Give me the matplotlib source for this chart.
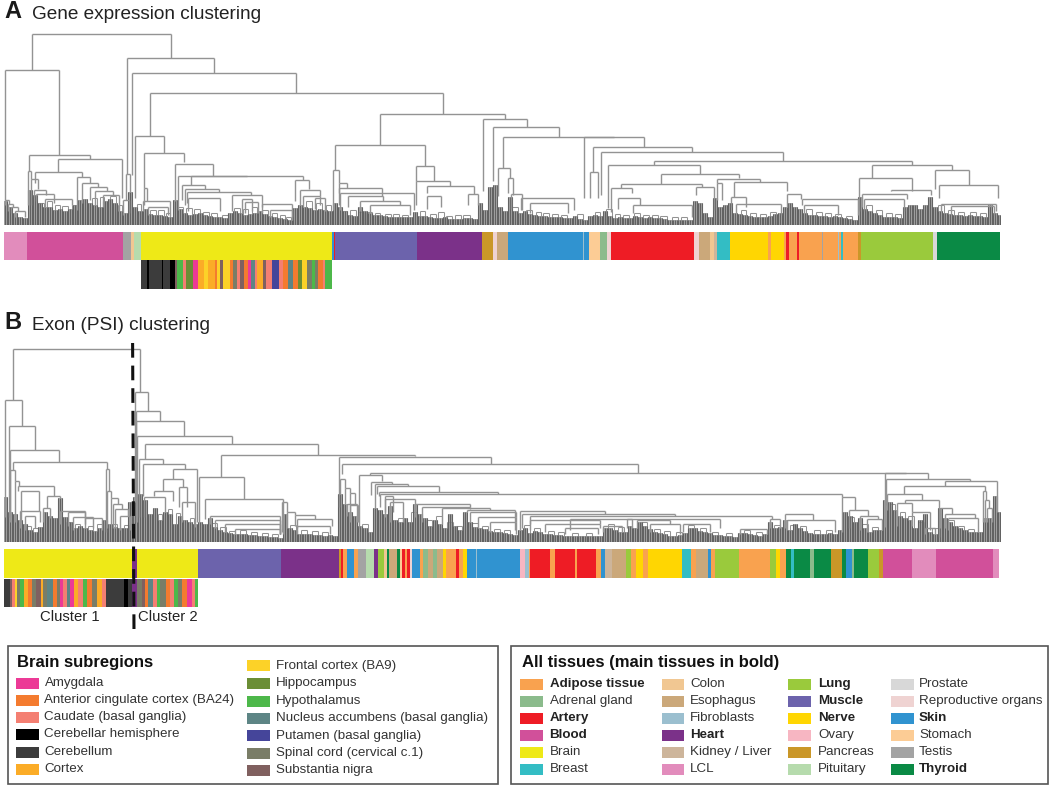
"""
Gene expression and exon clustering dendrograms with tissue strips
"""
import matplotlib
matplotlib.use("Agg")
import matplotlib.pyplot as plt
import numpy as np
from matplotlib.patches import Rectangle

plt.rcParams["font.family"] = ["Liberation Sans", "DejaVu Sans"]

W, H = 1050, 785

##################################################
# Legend contents
brain_keys = ["amy", "acc", "cau", "hem", "cer", "ctx",
              "fro", "hip", "hyp", "nuc", "put", "spi", "sub"]
brain_names = ["Amygdala", "Anterior cingulate cortex (BA24)", "Caudate (basal ganglia)",
               "Cerebellar hemisphere", "Cerebellum", "Cortex",
               "Frontal cortex (BA9)", "Hippocampus", "Hypothalamus",
               "Nucleus accumbens (basal ganglia)", "Putamen (basal ganglia)",
               "Spinal cord (cervical c.1)", "Substantia nigra"]
brain_colors = ["#EC3A96", "#F47B2F", "#F47F72", "#000000", "#3C3C3C", "#FBAC27",
                "#FCD228", "#6B8E35", "#4DB84A", "#5D8585", "#45459A", "#7A7D67", "#80605F"]

tissue_keys = ["adi", "adr", "art", "blo", "bra", "bre",
               "col", "eso", "fib", "hea", "kid", "lcl",
               "lun", "mus", "ner", "ova", "pan", "pit",
               "pro", "rep", "ski", "sto", "tes", "thy"]
tissue_names = ["Adipose tissue", "Adrenal gland", "Artery", "Blood", "Brain", "Breast",
                "Colon", "Esophagus", "Fibroblasts", "Heart", "Kidney / Liver", "LCL",
                "Lung", "Muscle", "Nerve", "Ovary", "Pancreas", "Pituitary",
                "Prostate", "Reproductive organs", "Skin", "Stomach", "Testis", "Thyroid"]
tissue_colors = ["#F9A24F", "#8BBB8C", "#EE1C25", "#D1509A", "#EEE917", "#33BDC4",
                 "#F1C792", "#CBA87A", "#9BBFCF", "#7B3189", "#CDB59B", "#E28CBC",
                 "#9ACA3C", "#6C63AC", "#FFD602", "#F7B6C2", "#CA9728", "#B6DBAD",
                 "#D8D8D8", "#EFD3D2", "#3093D0", "#FCCC95", "#A3A3A3", "#0A8A45"]
tissue_bold = ["Adipose tissue", "Artery", "Blood", "Heart", "Lung", "Muscle",
               "Nerve", "Skin", "Thyroid"]

##################################################
# Panel A dendrogram: merges
a_left = [32, 5, 127, 132, 150, 135, 144, 175, 29, 58,
          28, 35, 31, 34, 36, 45, 77, 82, 90, 95,
          103, 5, 8, 11, 15, 123, 126, 144, 143, 148,
          178, 191, 182, 185, 187, 188, 232, 242, 245, 262,
          270, 295, 300, 303, 315, 380, 335, 416, 416, 427,
          427, 468, 333, 339, 339, 340, 348, 360, 370, 483,
          493, 503, 584, 593, 590, 601, 654, 608, 661, 621,
          611, 618, 633, 696, 717, 734, 717, 731, 736, 787,
          802, 804, 859, 891, 862, 864, 872, 935, 939, 941,
          951, 498, 508, 511, 521, 530]
a_right = [171, 59, 214, 296, 443, 164, 184, 213, 90, 122,
           31, 82, 38, 46, 54, 72, 90, 98, 107, 113,
           119, 9, 13, 18, 25, 129, 130, 147, 170, 168,
           247, 303, 205, 219, 251, 220, 262, 252, 258, 292,
           292, 309, 320, 320, 325, 505, 425, 434, 450, 474,
           441, 478, 339, 347, 382, 414, 383, 400, 410, 527,
           559, 614, 644, 692, 598, 783, 912, 700, 739, 702,
           632, 640, 692, 714, 760, 787, 722, 746, 781, 801,
           858, 838, 912, 931, 907, 904, 952, 969, 998, 996,
           994, 510, 513, 522, 574, 568]
a_top = [191, 155, 167, 152, 132, 89, 72, 61, 70, 66,
         54, 53, 46, 35, 31, 26, 48, 42, 38, 34,
         30, 25, 21, 18, 14, 25, 51, 37, 24, 18,
         49, 48.5, 40, 36, 33, 27, 30, 26, 23, 21,
         15, 45, 35, 29, 27, 111, 80, 59, 44, 39,
         29, 31, 55, 42, 37, 32, 29, 24, 20, 106,
         98, 88, 87.5, 78, 53, 73, 64, 60, 51, 41,
         37, 27, 20, 38, 46, 43, 42, 28, 21, 31,
         26, 20, 47, 35, 31, 26, 60, 55, 40, 21,
         19, 57, 47, 31, 27, 22]
a_left_end = [155, 25, 51, 50, 89, 27, 37, 24, 54, 53,
              20, 42, 20, 28, 24, 18, 15, 22, 25, 20,
              18, 20, 14, 12, 8, 10, 25, 20, 14, 10,
              15, 40, 25, 20, 22, 14, 14, 12, 12, 12,
              8, 24, 20, 18, 16, 80, 55, 44, 20, 32,
              16, 20, 15, 20, 32, 15, 18, 14, 12, 34,
              44, 57, 27, 53, 27, 30, 60, 17, 41, 37,
              13, 16, 12, 30, 42, 28, 25, 18, 12, 18,
              20, 12, 14, 34, 18, 14, 47, 36, 27, 14,
              10, 29, 32, 16, 15, 12]
a_right_end = [167, 70, 152, 132, 111, 72, 63, 49, 66, 27,
               46, 48, 36, 30, 22, 20, 42, 38, 34, 30,
               14, 21, 18, 14, 8, 12, 33, 24, 9, 10,
               48.5, 45, 36, 33, 30, 14, 18, 14, 12, 8,
               5, 36, 29, 20, 14, 106, 59, 44, 39, 31,
               18, 20, 42, 37, 29, 15, 24, 20, 10, 98,
               88, 88, 78, 73, 27, 64, 60, 51, 47, 38,
               32, 20, 8, 15, 43, 34, 25, 18, 10, 26,
               10, 10, 34, 30, 26, 14, 55, 40, 27, 14,
               10, 47, 30, 15, 15, 12]

# small brackets just above the leaf band
a_twig_left = [38, 47, 55, 62, 72, 92, 100, 110, 118, 137,
               150, 158, 166, 178, 186, 194, 203, 211, 222, 234,
               243, 252, 262, 272, 280, 286, 306, 316, 326, 342,
               350, 358, 366, 375, 385, 393, 402, 420, 430, 438,
               446, 455, 463, 512, 526, 536, 543, 552, 561, 577,
               595, 606, 615, 623, 634, 643, 652, 660, 672, 681,
               741, 750, 760, 770, 806, 816, 825, 835, 846, 866,
               876, 886, 895, 938, 948, 958, 970, 980]
a_twig_right = [44, 52, 60, 68, 76, 97, 104, 116, 122, 141,
                156, 164, 170, 183, 192, 200, 209, 217, 228, 240,
                248, 257, 268, 277, 285, 291, 312, 322, 331, 347,
                356, 364, 372, 380, 391, 399, 408, 425, 436, 444,
                452, 461, 470, 518, 532, 541, 549, 558, 567, 583,
                600, 612, 620, 629, 640, 649, 658, 667, 678, 687,
                746, 756, 766, 776, 812, 822, 831, 841, 852, 872,
                882, 892, 901, 944, 954, 964, 976, 986]
a_twig_top = [22, 24, 20, 19, 20, 27, 28, 29, 20, 21,
              15, 15, 12, 18, 17, 16, 13, 12, 10, 17,
              16, 18, 15, 12, 10, 8, 24, 22, 20, 14,
              15, 13, 13, 12, 11, 11, 10, 14, 11, 13,
              9, 10, 10, 18, 15, 13, 12, 11, 10, 11,
              13, 16, 11, 10, 12, 10, 10, 9, 8, 8,
              15, 12, 11, 13, 16, 13, 12, 11, 9, 20,
              15, 12, 11, 20, 15, 13, 13, 12]

# height of the dense leaf band, one value per 5 leaf positions
a_band = [24, 18, 12, 8, 7, 35, 30, 22, 18, 18, 15, 16, 14, 16, 20, 25, 26, 22, 20, 18,
          24, 26, 22, 14, 12, 33, 18, 14, 16, 11, 10, 10, 9, 8, 25, 16, 12, 10, 11, 12,
          10, 9, 8, 8, 7, 12, 14, 12, 10, 11, 12, 14, 11, 9, 8, 7, 6, 5, 17, 20,
          18, 17, 15, 16, 15, 14, 22, 18, 14, 10, 9, 18, 14, 12, 10, 10, 9, 8, 8, 8,
          8, 8, 13, 9, 9, 8, 7, 7, 8, 6, 6, 6, 7, 7, 6, 22, 15, 38, 40, 18,
          14, 28, 14, 12, 14, 11, 10, 9, 9, 8, 8, 8, 7, 7, 9, 6, 5, 9, 10, 9,
          14, 9, 7, 8, 7, 7, 9, 8, 7, 8, 7, 7, 6, 5, 5, 5, 5, 5, 24, 22,
          12, 8, 27, 18, 20, 22, 12, 11, 10, 9, 8, 8, 8, 9, 11, 12, 18, 22, 18, 16,
          12, 10, 10, 9, 9, 8, 9, 8, 7, 6, 5, 28, 16, 14, 12, 10, 8, 8, 8, 7,
          18, 20, 20, 16, 20, 28, 18, 14, 12, 11, 10, 10, 9, 10, 9, 9, 8, 20, 12, 10]

# colour strips, edges in sample rank
a_main_keys = ["lcl", "blo", "tes", "col", "pit", "bra", "ski", "art", "mus", "hea",
               "pan", "rep", "eso", "ski", "fib", "ski", "sto", "adr", "rep", "art",
               "rep", "eso", "col", "kid", "bre", "ner", "adi", "ner", "adi", "art",
               "adi", "art", "adi", "tes", "adi", "fib", "adi", "bre", "adi", "pan",
               "lun", "pro", "thy"]
a_main_edges = [12, 82, 368, 392, 402, 424, 996, 1001, 1006, 1250, 1445,
                1480, 1490, 1523, 1748, 1752, 1766, 1801, 1821, 1834, 2082,
                2097, 2131, 2143, 2151, 2191, 2305, 2312, 2353, 2359, 2367,
                2391, 2396, 2465, 2468, 2513, 2518, 2523, 2528, 2573, 2584,
                2800, 2810, 3000]
a_sub_keys = ["cer", "hem", "cer", "hem", "cer", "hem", "sub", "hyp", "cau", "hip",
              "amy", "ctx", "fro", "ctx", "acc", "fro", "sub", "fro", "acc", "spi",
              "cau", "sub", "acc", "amy", "nuc", "cau", "ctx", "sub", "cau", "put",
              "cau", "acc", "nuc", "acc", "hip", "fro", "spi", "hyp", "spi", "acc",
              "cau", "hyp"]
a_sub_edges = [424, 440, 448, 485, 490, 510, 525, 532, 550, 557, 580,
               595, 612, 625, 645, 650, 660, 668, 690, 698, 712,
               720, 733, 745, 752, 765, 772, 790, 797, 815, 838,
               850, 865, 880, 895, 905, 920, 935, 945, 955, 968, 975, 996]

##################################################
# Panel B dendrogram
b_left = [13, 5, 9, 10, 13, 10, 15, 21, 18, 47,
          60, 20, 25, 43, 68, 73, 85, 106, 107, 111,
          113, 115, 120, 135, 135.5, 136, 137, 145, 221, 139,
          143, 173, 163, 154, 144, 179, 182, 199, 205, 210,
          215, 225, 235, 282, 287, 295, 297, 297, 339, 342,
          370, 885, 886, 945, 904, 887, 905, 897, 912, 925,
          940, 945, 948, 983, 985, 987, 359, 371, 375, 377,
          379, 380, 842, 849, 860, 867, 385, 385, 390, 415,
          422, 442, 467, 520, 522, 530, 570, 785, 787, 470,
          478, 490, 530, 545, 565, 603, 627, 637, 650, 683,
          740, 770, 340, 345, 350, 347, 350]
b_right = [140, 22, 35, 59, 107, 15, 19, 39, 54, 60,
           85, 40, 35, 50, 85, 93, 102, 109, 111, 118,
           122, 128, 130, 148, 160, 184, 232, 318, 415, 163,
           185, 197, 183, 173, 165, 187, 195, 244, 283, 280,
           280, 280, 280, 287, 295, 315, 332, 330, 491, 638,
           906, 928, 970, 997, 985, 922, 939, 912, 930, 935,
           952, 975, 978, 986, 989, 992, 382, 392, 408, 439,
           498, 842, 855, 868, 878, 882, 393, 415, 403, 470,
           470, 490, 515, 605, 675, 772, 720, 813, 835, 516,
           516, 516, 600, 600, 598, 622, 632, 670, 680, 710,
           767, 780, 345, 350, 355, 357, 358]
b_top = [192, 141.5, 115.5, 91.5, 79.5, 72, 61, 51, 56, 46,
         31, 31, 26, 34, 30, 25, 24, 73, 51, 44,
         38, 33, 26, 150, 131, 121, 106, 97.5, 87, 83,
         78, 73, 63, 51, 45, 55, 40, 65, 43, 26,
         22, 18, 13, 40, 30, 27, 23, 16, 85, 77.7,
         68.7, 68.7, 63, 61, 56, 48, 42, 39, 30, 14,
         34, 28, 24, 51, 42, 34, 66.7, 60, 58, 56,
         50, 47.5, 45, 32, 26, 23, 46, 43, 40, 38,
         35, 33.7, 32, 31, 28, 26, 23, 28, 22, 30,
         25, 20, 22, 18, 14, 16, 23, 22, 18, 18,
         13, 23, 63, 54, 49, 38, 37]
b_left_end = [141.5, 25, 25, 25, 72, 20, 20, 20, 51, 34,
              18, 14, 12, 20, 16, 12, 14, 10, 14, 18,
              14, 14, 12, 40, 40, 20, 20, 83, 65, 25,
              46, 63, 51, 46, 25, 35, 20, 20, 23, 18,
              14, 10, 8, 10, 14, 16, 14, 8, 35, 67.7,
              66.7, 15, 37, 56, 48, 32, 39, 16, 16, 8,
              14, 14, 12, 20, 20, 20, 14, 47, 34, 48,
              46, 35, 10, 14, 12, 10, 30, 25, 20, 25,
              20, 18, 30, 12, 14, 18, 12, 14, 12, 20,
              14, 10, 12, 10, 8, 10, 14, 14, 10, 10,
              8, 14, 48, 38, 30, 26, 20]
b_right_end = [150, 115.5, 91.5, 79.5, 73, 61, 56, 31, 46, 44,
               24, 20, 14, 24, 18, 14, 12, 51, 44, 38,
               33, 26, 12, 131, 121, 106, 97.5, 87, 85.5, 78,
               73, 20, 55, 41, 30, 35, 15, 43, 8, 8,
               8, 8, 8, 30, 27, 23, 16, 8, 77.7, 68.7,
               68.7, 63, 61, 30, 51, 42, 5, 30, 12, 8,
               28, 24, 10, 42, 34, 20, 61, 58, 56, 50,
               48, 45, 32, 26, 23, 12, 30, 38, 20, 35,
               33, 32, 12, 28, 26, 23, 14, 22, 10, 25,
               20, 8, 18, 14, 8, 10, 14, 18, 8, 10,
               8, 14, 54, 49, 38, 20, 20]

b_twig_left = [26, 33, 66, 75, 88, 97, 112, 124, 158, 168,
               176, 190, 212, 220, 229, 240, 251, 262, 272, 290,
               301, 312, 322, 362, 398, 411, 426, 436, 447, 456,
               472, 482, 494, 504, 524, 534, 548, 558, 572, 586,
               608, 618, 641, 654, 664, 676, 688, 700, 712, 726,
               744, 756, 774, 790, 800, 814, 826, 848, 862, 872,
               890, 900, 908, 918, 932, 948, 958, 968]
b_twig_right = [31, 38, 71, 80, 93, 102, 117, 129, 162, 172,
                180, 194, 217, 226, 235, 246, 257, 268, 278, 296,
                307, 318, 328, 368, 404, 417, 432, 442, 453, 462,
                478, 488, 500, 510, 530, 540, 554, 564, 578, 592,
                614, 624, 647, 660, 670, 682, 694, 706, 718, 732,
                750, 762, 780, 796, 806, 820, 832, 854, 868, 878,
                895, 905, 914, 924, 938, 954, 964, 974]
b_twig_top = [16, 14, 20, 18, 16, 18, 18, 17, 28, 33,
              29, 24, 19, 15, 11, 12, 10, 9, 8, 17,
              12, 11, 10, 18, 24, 30, 22, 26, 20, 16,
              19, 16, 13, 12, 17, 14, 11, 10, 9, 9,
              18, 15, 20, 13, 11, 10, 17, 14, 10, 9,
              12, 10, 17, 17, 16, 12, 12, 25, 18, 15,
              38, 30, 26, 20, 14, 22, 16, 13]

b_band = [45, 30, 28, 22, 18, 12, 10, 15, 30, 26, 24, 44, 25, 20, 14, 16, 14, 12, 11, 14,
          22, 18, 15, 14, 14, 40, 45, 48, 42, 28, 34, 22, 30, 28, 18, 26, 22, 20, 18, 20,
          18, 24, 15, 12, 10, 9, 8, 8, 8, 7, 7, 6, 6, 5, 5, 4, 28, 14, 12, 8,
          8, 8, 7, 7, 6, 7, 6, 48, 38, 30, 26, 16, 14, 10, 34, 32, 28, 36, 22, 20,
          24, 20, 38, 28, 24, 16, 22, 18, 14, 28, 16, 12, 30, 20, 15, 14, 13, 11, 10, 10,
          9, 8, 7, 12, 14, 9, 11, 10, 8, 8, 7, 7, 6, 6, 6, 6, 6, 6, 6, 6,
          14, 14, 12, 10, 10, 16, 14, 20, 16, 13, 10, 9, 8, 6, 6, 7, 9, 14, 14, 11,
          10, 9, 7, 7, 6, 6, 5, 9, 9, 8, 7, 6, 8, 20, 14, 15, 22, 12, 18, 14,
          11, 9, 8, 8, 8, 9, 8, 12, 30, 26, 20, 24, 14, 10, 12, 12, 42, 40, 32, 26,
          24, 22, 14, 22, 28, 10, 8, 34, 24, 20, 16, 14, 12, 10, 10, 10, 24, 24, 46, 30]

b_main_keys = ["bra", "hea", "bra", "mus", "hea", "pan", "art", "adi", "ski", "adi",
               "tes", "pit", "hea", "lun", "col", "thy", "eso", "thy", "sto", "art",
               "adi", "art", "rep", "ski", "adi", "adr", "eso", "adr", "eso", "ner",
               "adi", "art", "adi", "ner", "ski", "fib", "ski",
               "ova", "fib", "adi", "art", "adi", "art", "adi", "art", "adi", "ski",
               "kid", "eso", "lun", "adi", "ner", "adi", "ner", "bre", "adi", "eso",
               "ski", "adi", "lun", "adi", "lun", "ner", "adi", "thy", "bre", "thy",
               "adr", "thy", "pan", "thy", "ski", "adr", "thy", "lun", "pan", "blo",
               "lcl", "blo", "lcl"]
b_main_edges = [12, 397, 412, 594, 842, 1017, 1023, 1030, 1040, 1062,
                1075, 1098, 1122, 1135, 1153, 1160, 1168, 1190, 1200, 1205,
                1215, 1222, 1230, 1236, 1260, 1270, 1285, 1300, 1310, 1330,
                1338, 1368, 1378, 1390, 1400, 1428, 1432,
                1560, 1575, 1588, 1590, 1651, 1666, 1726, 1732, 1788, 1803,
                1815, 1836, 1879, 1894, 1907, 1930, 1945, 2046, 2072, 2087,
                2123, 2133, 2145, 2217, 2310, 2327, 2340, 2358, 2372, 2381,
                2431, 2441, 2494, 2525, 2538, 2556, 2561, 2604, 2636, 2650,
                2735, 2809, 2978, 2997]
b_sub_keys = ["cer", "sub", "cau", "fro", "spi", "hyp", "ctx", "acc", "spi", "sub",
              "ctx", "spi", "nuc", "acc", "spi", "amy", "cau", "nuc", "amy", "ctx",
              "cau", "hyp", "acc", "spi", "ctx", "cau", "cer", "hem", "cer", "hea",
              "spi", "sub", "acc", "nuc", "cau", "hyp", "spi", "acc", "cau", "hyp",
              "spi", "acc", "amy", "cau", "hyp"]
b_sub_edges = [12, 30, 37, 45, 52, 60, 72, 85, 95, 107, 122,
               130, 142, 158, 170, 180, 190, 200, 210, 222, 235,
               250, 262, 275, 290, 305, 318, 372, 385, 397, 412,
               425, 435, 445, 460, 470, 480, 497, 510, 522, 535,
               545, 560, 575, 585, 594]

##################################################
# Plot
TREE_GREY = "#939393"


def make_axes(fig, x0, y0, x1, y1):
    ax = fig.add_axes([x0 / W, 1 - y1 / H, (x1 - x0) / W, (y1 - y0) / H])
    ax.axis("off")
    ax.patch.set_alpha(0)
    return ax


def draw_tree(ax, left, right, top, left_end, right_end, twig_left, twig_right, twig_top, band):
    band_x = 5 * np.arange(1, len(band) + 1)
    # three leaves to a band value, so the band shows fine stripes
    leaf_x = np.repeat(band_x, 3) + np.tile([-5 / 3, 0, 5 / 3], len(band))
    leaf_h = np.repeat(band, 3)
    ax.bar(band_x, band, width=5, color="#a6a6a6", linewidth=0)
    ax.vlines(twig_left, 0, twig_top, color=TREE_GREY, linewidth=0.75)
    ax.vlines(twig_right, 0, twig_top, color=TREE_GREY, linewidth=0.75)
    ax.hlines(twig_top, twig_left, twig_right, color=TREE_GREY, linewidth=0.75)
    ax.vlines(leaf_x, 0, leaf_h, color="#626262", linewidth=0.8)
    ax.hlines(top, left, right, color=TREE_GREY, linewidth=1.0)
    ax.vlines(left, left_end, top, color=TREE_GREY, linewidth=1.0)
    ax.vlines(right, right_end, top, color=TREE_GREY, linewidth=1.0)


def draw_strip(ax, keys, edges, colors):
    edges = np.array(edges)
    ax.barh(0, np.diff(edges), left=edges[:-1], height=1,
            color=[colors[k] for k in keys], linewidth=0)
    ax.set_xlim(12, 3003)
    ax.set_ylim(-0.5, 0.5)


fig = plt.figure(figsize=(W / 100, H / 100), dpi=100, facecolor="white")
all_colors = dict(zip(tissue_keys, tissue_colors)) | dict(zip(brain_keys, brain_colors))

ax = make_axes(fig, 4, 30, 1001, 224.5)
draw_tree(ax, a_left, a_right, a_top, a_left_end, a_right_end,
          a_twig_left, a_twig_right, a_twig_top, a_band)
ax.set_xlim(4, 1001)
ax.set_ylim(0, 194.5)

ax = make_axes(fig, 4, 231.5, 1001, 260)
draw_strip(ax, a_main_keys, a_main_edges, all_colors)
ax = make_axes(fig, 4, 260, 1001, 289)
draw_strip(ax, a_sub_keys, a_sub_edges, all_colors)

ax = make_axes(fig, 4, 340, 1001, 541.5)
draw_tree(ax, b_left, b_right, b_top, b_left_end, b_right_end,
          b_twig_left, b_twig_right, b_twig_top, b_band)
ax.set_xlim(4, 1001)
ax.set_ylim(0, 201.5)

ax = make_axes(fig, 4, 549, 1001, 577.5)
draw_strip(ax, b_main_keys, b_main_edges, all_colors)
ax = make_axes(fig, 4, 578.5, 1001, 607)
draw_strip(ax, b_sub_keys, b_sub_edges, all_colors)

# annotation layer in picture coordinates
ov = make_axes(fig, 0, 0, W, H)
ov.set_xlim(0, W)
ov.set_ylim(H, 0)

ov.text(4.5, 11, "A", fontsize=17, fontweight="bold", color="#1a1a1a", va="center")
ov.text(31.5, 14.5, "Gene expression clustering", fontsize=13.7, color="#222222", va="center")
ov.text(4.5, 322.5, "B", fontsize=17, fontweight="bold", color="#1a1a1a", va="center")
ov.text(31.5, 325.5, "Exon (PSI) clustering", fontsize=13.7, color="#222222", va="center")
ov.text(40, 617, "Cluster 1", fontsize=10.7, color="#222222", va="center")
ov.text(138.5, 617, "Cluster 2", fontsize=10.7, color="#222222", va="center")
ov.plot([132.6, 134], [343, 634], color="#111111", linewidth=2.2,
        linestyle=(0, (4.8, 2.6)), solid_capstyle="butt")

ov.add_patch(Rectangle((7.5, 645.5), 490.5, 138, facecolor="white", edgecolor="#555555", linewidth=1.2))
ov.add_patch(Rectangle((511, 645.5), 537, 138, facecolor="white", edgecolor="#555555", linewidth=1.2))

ov.text(17, 662, "Brain subregions", fontsize=12, fontweight="bold", color="#111111", va="center")
ov.text(522, 662, "All tissues (main tissues in bold)", fontsize=12, fontweight="bold",
        color="#111111", va="center")

brain_x = [16] * 6 + [247] * 7
brain_y = [683, 700, 717, 734.5, 752, 769, 665.5, 683, 701, 718, 735.5, 753, 770.5]
for x, y, name, color in zip(brain_x, brain_y, brain_names, brain_colors):
    ov.add_patch(Rectangle((x, y - 5.5), 23, 11, facecolor=color, edgecolor="none"))
    ov.text(x + 28.5, y, name, fontsize=9.6, color="#333333", va="center")

tissue_x = [520] * 6 + [661.5] * 6 + [788] * 6 + [891] * 6
tissue_text_x = [549.5] * 6 + [690] * 6 + [818] * 6 + [919] * 6
tissue_y = [684, 701, 718, 735, 752, 769] * 4
for x, tx, y, name, color in zip(tissue_x, tissue_text_x, tissue_y, tissue_names, tissue_colors):
    ov.add_patch(Rectangle((x, y - 5.5), 22.5, 11, facecolor=color, edgecolor="none"))
    bold = name in tissue_bold
    ov.text(tx, y, name, fontsize=9.6, color="#222222" if bold else "#333333",
            fontweight="bold" if bold else "normal", va="center")

fig.savefig("out.png", dpi=100)
